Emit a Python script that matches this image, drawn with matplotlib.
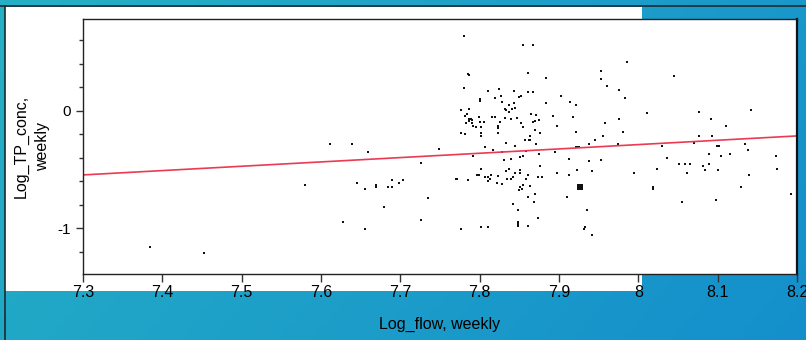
import numpy as np
import matplotlib
matplotlib.use('Agg')
import matplotlib.pyplot as plt
from matplotlib.patches import Rectangle

plt.rcParams['font.family'] = ['Liberation Sans', 'DejaVu Sans']

# weekly values
log_flow = [7.385, 7.452, 7.580, 7.611, 7.639, 7.659, 7.645, 7.656, 7.669, 7.669,
            7.684, 7.689, 7.690, 7.698, 7.703, 7.679, 7.628, 7.656, 7.726, 7.735,
            7.726, 7.749, 7.770, 7.772, 7.780, 7.855, 7.867, 7.785, 7.786, 7.861,
            7.884, 7.780, 7.811, 7.824, 7.843, 7.861, 7.867, 7.827, 7.819, 7.850,
            7.852, 7.801, 7.800, 7.828, 7.837, 7.843, 7.884, 7.844, 7.832, 7.833,
            7.837, 7.841, 7.777, 7.786, 7.782, 7.784, 7.815, 7.819, 7.799, 7.832,
            7.840, 7.847, 7.865, 7.871, 7.786, 7.789, 7.790, 7.787, 7.783, 7.790,
            7.800, 7.806, 7.825, 7.870, 7.875, 7.852, 7.867, 7.792, 7.795, 7.802,
            7.823, 7.823, 7.855, 7.870, 7.876, 7.776, 7.782, 7.802, 7.802, 7.823,
            7.864, 7.857, 7.862, 7.864, 7.871, 7.807, 7.833, 7.844, 7.817, 7.828,
            7.858, 7.875, 7.791, 7.831, 7.840, 7.851, 7.855, 7.876, 7.802, 7.837,
            7.851, 7.851, 7.833, 7.844, 7.861, 7.797, 7.799, 7.814, 7.823, 7.807,
            7.810, 7.813, 7.835, 7.839, 7.842, 7.858, 7.874, 7.878, 7.785, 7.810,
            7.822, 7.828, 7.854, 7.863, 7.851, 7.853, 7.850, 7.870, 7.861, 7.868,
            7.842, 7.848, 7.873, 7.848, 7.848, 7.848, 7.861, 7.777, 7.802, 7.811,
            7.986, 7.953, 7.953, 7.960, 7.975, 7.983, 7.903, 7.914, 7.921, 8.011,
            7.892, 7.918, 7.975, 7.897, 7.958, 7.921, 7.981, 7.955, 7.945, 7.938,
            7.974, 7.921, 7.923, 7.925, 7.895, 7.912, 7.938, 7.953, 7.923, 7.941,
            7.897, 7.912, 7.994, 7.910, 7.935, 7.933, 7.932, 7.941,
            8.045, 8.076, 8.142, 8.092, 8.110, 8.077, 8.093, 8.070, 8.030, 8.099,
            8.102, 8.134, 8.138, 8.036, 8.089, 8.104, 8.115, 8.173, 8.051, 8.059,
            8.065, 8.082, 8.089, 8.023, 8.084, 8.101, 8.175, 8.061, 8.140, 8.019,
            8.018, 8.130, 8.192, 8.055, 8.098]
log_tp = [-1.159, -1.207, -0.628, -0.286, -0.286, -0.349, -0.614, -0.665, -0.630, -0.650,
          -0.653, -0.591, -0.653, -0.614, -0.591, -0.821, -0.943, -1.003, -0.446, -0.747,
          -0.929, -0.324, -0.579, -0.579, 0.634, 0.560, 0.560, 0.313, 0.305, 0.319,
          0.281, 0.196, 0.171, 0.185, 0.171, 0.162, 0.162, 0.123, 0.111, 0.114,
          0.123, 0.100, 0.085, 0.074, 0.051, 0.063, 0.063, 0.026, 0.014, 0.003,
          -0.008, 0.012, 0.006, 0.014, -0.045, -0.025, -0.056, -0.056, -0.056, -0.060,
          -0.071, -0.060, -0.031, -0.034, -0.070, -0.068, -0.078, -0.085, -0.108, -0.108,
          -0.094, -0.094, -0.094, -0.085, -0.079, -0.108, -0.096, -0.130, -0.142, -0.142,
          -0.130, -0.145, -0.142, -0.165, -0.190, -0.193, -0.201, -0.193, -0.216, -0.193,
          -0.216, -0.245, -0.245, -0.248, -0.287, -0.312, -0.275, -0.298, -0.338, -0.349,
          -0.346, -0.372, -0.386, -0.423, -0.412, -0.397, -0.386, -0.469, -0.494, -0.494,
          -0.506, -0.529, -0.517, -0.529, -0.543, -0.543, -0.543, -0.551, -0.554, -0.568,
          -0.568, -0.577, -0.577, -0.577, -0.565, -0.577, -0.568, -0.568, -0.591, -0.602,
          -0.614, -0.625, -0.628, -0.639, -0.653, -0.662, -0.676, -0.710, -0.736, -0.773,
          -0.795, -0.847, -0.917, -0.949, -0.963, -0.980, -0.977, -1.003, -0.989, -0.989,
          0.415, 0.341, 0.268, 0.208, 0.174, 0.111, 0.125, 0.077, 0.051, -0.022,
          -0.045, -0.056, -0.071, -0.130, -0.108, -0.179, -0.179, -0.216, -0.253, -0.287,
          -0.287, -0.312, -0.312, -0.312, -0.349, -0.409, -0.432, -0.420, -0.506, -0.517,
          -0.529, -0.543, -0.529, -0.736, -0.844, -0.989, -1.011, -1.062,
          0.296, -0.008, 0.003, -0.071, -0.130, -0.216, -0.216, -0.275, -0.301, -0.301,
          -0.301, -0.287, -0.335, -0.398, -0.372, -0.386, -0.372, -0.383, -0.457, -0.457,
          -0.457, -0.469, -0.457, -0.494, -0.506, -0.506, -0.494, -0.531, -0.543, -0.653,
          -0.662, -0.653, -0.713, -0.773, -0.761]

# one point drawn bigger
big_flow = [7.926]
big_tp = [-0.648]

# fitted line
fit_slope = 0.369
fit_intercept = -3.240

x_ticks = [7.3, 7.4, 7.5, 7.6, 7.7, 7.8, 7.9, 8.0, 8.1, 8.2]
x_labels = ['7.3', '7.4', '7.5', '7.6', '7.7', '7.8', '7.9', '8', '8.1', '8.2']

fig = plt.figure(figsize=(8.06, 3.4), dpi=100)

# gradient background
bg = fig.add_axes([0, 0, 1, 1])
bg.set_axis_off()
gx, gy = np.meshgrid(np.linspace(0, 1, 200), np.linspace(0, 1, 100))
t = (gx + 0.35 * gy) / 1.35
c0 = np.array([38, 176, 197]) / 255
c1 = np.array([20, 143, 204]) / 255
img = c0[None, None, :] * (1 - t[..., None]) + c1[None, None, :] * t[..., None]
bg.imshow(img, extent=[0, 1, 0, 1], aspect='auto', origin='upper')
bg.set_xlim(0, 1)
bg.set_ylim(0, 1)
bg.add_patch(Rectangle((5 / 806, 1 - 291 / 340), 637 / 806, 284 / 340,
                       facecolor='white', edgecolor='none'))
bg.plot([0, 1], [1 - 5.5 / 340, 1 - 5.5 / 340], color='#1c2a30', lw=1.2)
bg.plot([4.8 / 806, 4.8 / 806], [0, 1 - 5.5 / 340], color='#1c2a30', lw=1.2)

ax = fig.add_axes([83 / 806, 1 - 274 / 340, 714 / 806, 255.3 / 340])
ax.set_facecolor('white')
ax.scatter(log_flow, log_tp, marker='s', s=4.5, color='#111111', linewidths=0)
ax.scatter(big_flow, big_tp, marker='s', s=16, color='#111111', linewidths=0)

xx = np.array([7.3, 8.2])
ax.plot(xx, fit_intercept + fit_slope * xx, color='#ec3a52', lw=1.2)

ax.set_xlim(7.3, 8.2)
ax.set_ylim(-1.39, 0.784)
ax.set_xticks(x_ticks)
ax.set_xticklabels(x_labels)
ax.set_yticks([-1, 0])
ax.set_yticklabels(['-1', '0'])
ax.set_yticks(np.arange(-1.2, 0.8, 0.2), minor=True)
ax.tick_params(axis='x', direction='out', length=6, width=1, color='#333333',
               labelsize=11.5, pad=2)
ax.tick_params(axis='y', which='major', direction='out', length=5, width=1,
               color='#333333', labelsize=11, pad=4)
ax.tick_params(axis='y', which='minor', direction='out', length=3, width=1,
               color='#333333')
for side in ['left', 'bottom', 'top']:
    ax.spines[side].set_color('#222222')
    ax.spines[side].set_linewidth(1.0)
ax.spines['right'].set_color('#111111')
ax.spines['right'].set_linewidth(1.6)

ax.set_xlabel('Log_flow, weekly', fontsize=11.5, labelpad=12)
ax.set_ylabel('Log_TP_conc,\nweekly', fontsize=11.5, labelpad=5, linespacing=1.55)

fig.savefig('out.png', dpi=100)
